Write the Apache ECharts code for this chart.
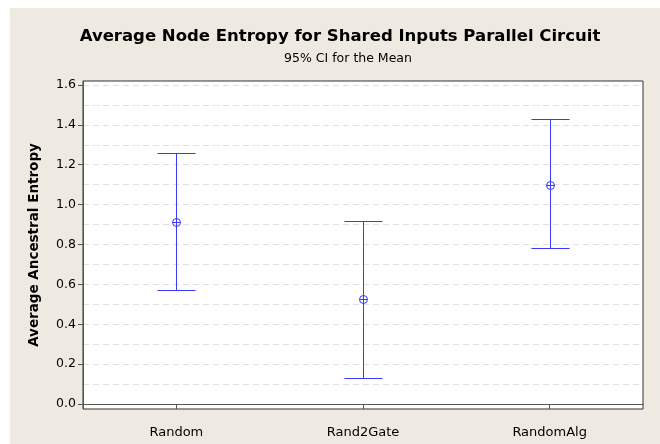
<!DOCTYPE html>
<html>
<head>
<meta charset="utf-8">
<script src="https://cdn.jsdelivr.net/npm/echarts@6/dist/echarts.min.js"></script>
<style>
  html, body { margin: 0; padding: 0; background: #ffffff; width: 660px; height: 444px; overflow: hidden; }
  #chart { position: absolute; left: 10px; top: 8px; width: 650px; height: 436px; background: #EEEAE1; }
</style>
</head>
<body>
<div id="chart"></div>
<script>
const titleText = 'Average Node Entropy for Shared Inputs Parallel Circuit';
const subtitleText = '95% CI for the Mean';
const yAxisName = 'Average Ancestral Entropy';
const categories = ['Random', 'Rand2Gate', 'RandomAlg'];
const ciLower = [0.57, 0.128, 0.78];
const means = [0.915, 0.527, 1.10];
const ciUpper = [1.26, 0.918, 1.43];
const yTickValues = [0.0, 0.2, 0.4, 0.6, 0.8, 1.0, 1.2, 1.4, 1.6];
const yGridValues = [0.0, 0.1, 0.2, 0.3, 0.4, 0.5, 0.6, 0.7, 0.8, 0.9, 1.0, 1.1, 1.2, 1.3, 1.4, 1.5, 1.6];
const yMin = -0.025;
const yMax = 1.62;

const FONT = 'DejaVu Sans';
const barColor = '#3a3afa';

const chart = echarts.init(document.getElementById('chart'), null, { renderer: 'canvas' });

function renderItem(params, api) {
  const xi = api.value(0);
  const lo = api.coord([xi, api.value(1)]);
  const mid = api.coord([xi, api.value(2)]);
  const hi = api.coord([xi, api.value(3)]);
  const x = Math.round(lo[0]) + 0.5;
  const yLo = Math.round(lo[1]) + 0.5;
  const yHi = Math.round(hi[1]) + 0.5;
  const yMid = Math.round(mid[1]) + 0.5;
  const half = 19;
  const r = 4;
  const st = { stroke: barColor, lineWidth: 1, fill: null };
  return {
    type: 'group',
    children: [
      { type: 'line', shape: { x1: x, y1: yHi, x2: x, y2: yLo }, style: st },
      { type: 'line', shape: { x1: x - half, y1: yHi, x2: x + half, y2: yHi }, style: st },
      { type: 'line', shape: { x1: x - half, y1: yLo, x2: x + half, y2: yLo }, style: st },
      { type: 'circle', shape: { cx: x, cy: yMid, r: r }, style: st },
      { type: 'line', shape: { x1: x - r, y1: yMid, x2: x + r, y2: yMid }, style: st }
    ]
  };
}

const option = {
  backgroundColor: '#EEEAE1',
  animation: false,
  title: [
    {
      text: titleText,
      left: 325, top: 15, textAlign: 'center',
      textStyle: { fontFamily: FONT, fontWeight: 'bold', fontSize: 16.5, color: '#000' }
    },
    {
      text: subtitleText,
      left: 333, top: 39, textAlign: 'center',
      textStyle: { fontFamily: FONT, fontWeight: 'normal', fontSize: 12.5, color: '#000' }
    }
  ],
  grid: {
    left: 73, right: 17, top: 73, bottom: 35,
    show: true, backgroundColor: '#ffffff',
    borderColor: '#333333', borderWidth: 1,
    containLabel: false
  },
  xAxis: {
    type: 'category',
    data: categories,
    boundaryGap: true,
    axisLine: { show: true, lineStyle: { color: '#555', width: 1 } },
    axisTick: { show: true, alignWithLabel: true, length: 5, inside: false, lineStyle: { color: '#555' } },
    axisLabel: { fontFamily: FONT, fontSize: 13, color: '#000', margin: 17 },
    splitLine: { show: false }
  },
  yAxis: [
    {
      type: 'value', min: yMin, max: yMax,
      name: yAxisName, nameLocation: 'middle', nameGap: 42, nameRotate: 90,
      nameTextStyle: { fontFamily: FONT, fontWeight: 'bold', fontSize: 13.5, color: '#000' },
      axisLine: { show: true, lineStyle: { color: '#555', width: 1 } },
      axisTick: { show: false, customValues: yGridValues },
      axisLabel: {
        customValues: yTickValues, fontFamily: FONT, fontSize: 12.5, color: '#000', margin: 7,
        formatter: v => v.toFixed(1)
      },
      splitLine: { show: true, lineStyle: { color: '#e0e0e0', type: [6, 4], width: 1 } }
    },
    {
      type: 'value', min: yMin, max: yMax, position: 'left',
      axisLine: { show: false },
      axisTick: { show: true, customValues: yTickValues, length: 5, inside: false, lineStyle: { color: '#555' } },
      axisLabel: { show: false },
      splitLine: { show: false }
    }
  ],
  series: [
    {
      type: 'custom',
      renderItem: renderItem,
      encode: { x: 0, y: [1, 2, 3] },
      data: categories.map((c, i) => [i, ciLower[i], means[i], ciUpper[i]]),
      z: 10
    }
  ]
};
chart.setOption(option);
</script>
</body>
</html>
